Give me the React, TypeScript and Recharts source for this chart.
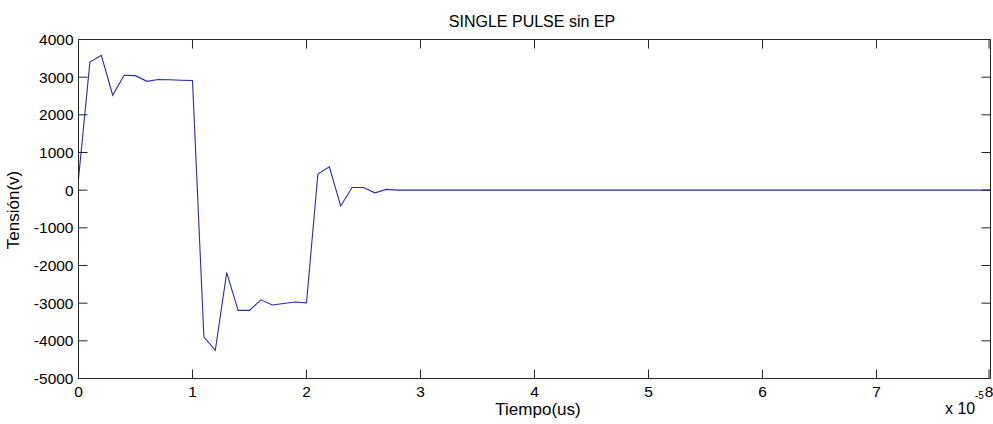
import React from "react";
import { LineChart, Line, XAxis, YAxis } from "recharts";

// time in units of 1e-5 s (axis shows "x 10^-5")
const timeTicks = [0, 1, 2, 3, 4, 5, 6, 7, 8];
const voltTicks = [-5000, -4000, -3000, -2000, -1000, 0, 1000, 2000, 3000, 4000];

const time = [
  0, 0.1, 0.2, 0.3, 0.4, 0.5, 0.6, 0.7, 0.8, 0.9,
  1.0, 1.1, 1.2, 1.3, 1.4, 1.5, 1.6, 1.7, 1.8, 1.9,
  2.0, 2.1, 2.2, 2.3, 2.4, 2.5, 2.6, 2.7, 2.8, 8,
];
const voltage = [
  300, 3400, 3580, 2520, 3050, 3040, 2890, 2940, 2930, 2920,
  2910, -3900, -4250, -2190, -3190, -3190, -2910, -3050, -3010, -2970,
  -2990, 430, 620, -420, 70, 70, -70, 20, 0, 0,
];

const data = time.map((t, i) => ({ t, v: voltage[i] }));

const FRAME = "#262626";
const TICK_LEN = 9;
const FONT = "'Liberation Sans', Arial, sans-serif";

const BottomTick = (props: any) => {
  const { x, y, payload } = props;
  return (
    <g>
      <line x1={x} y1={y} x2={x} y2={y - TICK_LEN} stroke={FRAME} strokeWidth={1} />
      <text x={x} y={y + 18} textAnchor="middle" fontSize={15.5} fontFamily={FONT} fill="#000">
        {payload.value}
      </text>
    </g>
  );
};

const TopTick = (props: any) => {
  const { x, y } = props;
  return <line x1={x} y1={y} x2={x} y2={y + TICK_LEN} stroke={FRAME} strokeWidth={1} />;
};

const LeftTick = (props: any) => {
  const { x, y, payload } = props;
  return (
    <g>
      <line x1={x} y1={y} x2={x + TICK_LEN} y2={y} stroke={FRAME} strokeWidth={1} />
      <text x={x - 5} y={y + 5.5} textAnchor="end" fontSize={15.5} fontFamily={FONT} fill="#000">
        {payload.value}
      </text>
    </g>
  );
};

const RightTick = (props: any) => {
  const { x, y } = props;
  return <line x1={x} y1={y} x2={x - TICK_LEN} y2={y} stroke={FRAME} strokeWidth={1} />;
};

const App = () => {
  return (
    <div style={{ position: "absolute", left: 0, top: 0, width: 993, height: 424, background: "#fff" }}>
      <LineChart
        width={993}
        height={424}
        data={data}
        margin={{ top: 39.5, right: 2.5, bottom: 0.5, left: 0.5 }}
      >
        <XAxis
          dataKey="t"
          type="number"
          domain={[0, 8]}
          ticks={timeTicks}
          height={45}
          axisLine={{ stroke: FRAME }}
          tickLine={false}
          tickSize={0}
          tickMargin={0}
          tick={<BottomTick />}
        />
        <XAxis
          xAxisId="top"
          orientation="top"
          dataKey="t"
          type="number"
          domain={[0, 8]}
          ticks={timeTicks}
          height={0.01}
          axisLine={{ stroke: FRAME }}
          tickLine={false}
          tickSize={0}
          tickMargin={0}
          tick={<TopTick />}
        />
        <YAxis
          type="number"
          domain={[-5000, 4000]}
          ticks={voltTicks}
          width={78}
          axisLine={{ stroke: FRAME }}
          tickLine={false}
          tickSize={0}
          tickMargin={0}
          tick={<LeftTick />}
        />
        <YAxis
          yAxisId="right"
          orientation="right"
          type="number"
          domain={[-5000, 4000]}
          ticks={voltTicks}
          width={0.01}
          axisLine={{ stroke: FRAME }}
          tickLine={false}
          tickSize={0}
          tickMargin={0}
          tick={<RightTick />}
        />
        {/* invisible copy so the top/right frame axes get registered */}
        <Line
          xAxisId="top"
          yAxisId="right"
          type="linear"
          dataKey="v"
          stroke="none"
          dot={false}
          activeDot={false}
          legendType="none"
          isAnimationActive={false}
        />
        <Line
          type="linear"
          dataKey="v"
          stroke="#2a2ab4"
          strokeWidth={1.1}
          dot={false}
          isAnimationActive={false}
        />
      </LineChart>
      <svg
        width={993}
        height={424}
        style={{ position: "absolute", left: 0, top: 0, pointerEvents: "none" }}
      >
        <text x={532} y={27} textAnchor="middle" fontSize={16} fontFamily={FONT} fill="#000">
          SINGLE PULSE sin EP
        </text>
        <text x={538} y={415} textAnchor="middle" fontSize={17} fontFamily={FONT} fill="#000">
          Tiempo(us)
        </text>
        <text
          x={18.5}
          y={210}
          transform="rotate(-90, 18.5, 210)"
          textAnchor="middle"
          fontSize={17}
          fontFamily={FONT}
          fill="#000"
        >
          Tensión(v)
        </text>
        <text x={945} y={414} fontSize={16} fontFamily={FONT} fill="#000">
          x 10
        </text>
        <text x={975} y={399} fontSize={10} fontFamily={FONT} fill="#000">
          -5
        </text>
      </svg>
    </div>
  );
};

export default App;
